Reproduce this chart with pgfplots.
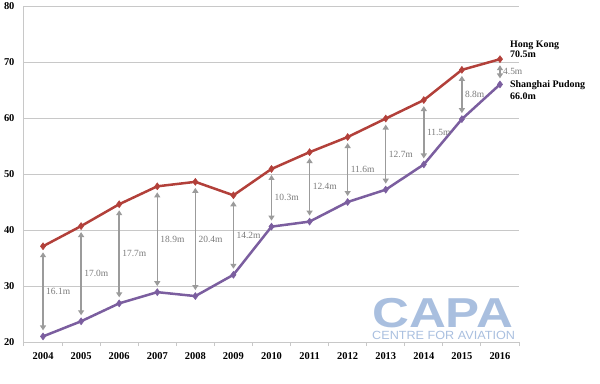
\documentclass[border=0pt]{standalone}
\usepackage{pgfplots}
\pgfplotsset{compat=1.18}
\usepackage{pgfplotstable}
\usepackage{fontspec}
\setmainfont{Liberation Serif}
\newfontfamily\logofont{Liberation Sans}
\usetikzlibrary{arrows.meta}

\definecolor{hkred}{HTML}{B2403A}
\definecolor{shpurple}{HTML}{7B5E9F}
\definecolor{arrgrey}{HTML}{9B9B9B}
\definecolor{gridgrey}{HTML}{C8C8C8}
\definecolor{capablue}{HTML}{A9BFDF}
\definecolor{labgrey}{HTML}{7A7A7A}

\pgfplotstableread{
x hk sh d lab
0 37.1 21.0 16.1 16.1m
1 40.7 23.7 17.0 17.0m
2 44.6 26.9 17.7 17.7m
3 47.8 28.9 18.9 18.9m
4 48.6 28.2 20.4 20.4m
5 46.2 32.0 14.2 14.2m
6 50.9 40.6 10.3 10.3m
7 53.9 41.5 12.4 12.4m
8 56.6 45.0 11.6 11.6m
9 59.9 47.2 12.7 12.7m
10 63.2 51.7 11.5 11.5m
11 68.6 59.8 8.8 8.8m
12 70.5 66.0 4.5 4.5m
}\data

\begin{document}
\begin{tikzpicture}
\useasboundingbox (-24bp,-42bp) rectangle (576bp,342bp);
\begin{axis}[
  at={(0,0)}, anchor=south west,
  scale only axis, width=495bp, height=336bp,
  xmin=-0.5, xmax=12.5, ymin=20, ymax=80,
  clip=false,
  axis lines=left,
  axis line style={-, draw=gridgrey, line width=1bp},
  xtick={0,1,2,3,4,5,6,7,8,9,10,11,12},
  xticklabels={2004,2005,2006,2007,2008,2009,2010,2011,2012,2013,2014,2015,2016},
  minor xtick={-0.5,0.5,1.5,2.5,3.5,4.5,5.5,6.5,7.5,8.5,9.5,10.5,11.5,12.5},
  major tick length=0pt,
  minor tick length=4bp,
  tick align=outside,
  minor tick style={draw=gridgrey, line width=1bp},
  ytick={20,30,40,50,60,70,80},
  ymajorgrids,
  grid style={draw=gridgrey, line width=1bp},
  tick label style={font=\bfseries\fontsize{10.5}{12}\selectfont},
  yticklabel style={xshift=-6bp},
  xticklabel style={yshift=-7bp},
  /pgf/number format/assume math mode=true,
]
% gap arrows
\addplot[draw=arrgrey, line width=1.5bp,
  {Triangle[width=6bp,length=5bp]}-{Triangle[width=6bp,length=5bp]},
  shorten >=6bp, shorten <=6bp,
  quiver={u=0, v=\thisrow{d}}] table[x=x, y=sh] {\data};
% gap labels
\addplot[draw=none, mark=none,
  nodes near coords, point meta=explicit symbolic,
  nodes near coords style={anchor=west, inner sep=1bp, xshift=2bp,
    font=\fontsize{9.5}{10}\selectfont, text=labgrey}]
  table[x=x, y expr=(\thisrow{hk}+\thisrow{sh})/2, meta=lab] {\data};
% series
\addplot[color=hkred, line width=2.5bp, mark=diamond*,
  mark size=3.5bp, mark options={fill=hkred, draw=hkred, line width=0.5bp}]
  table[x=x, y=hk] {\data};
\addplot[color=shpurple, line width=2.5bp, mark=diamond*,
  mark size=3.5bp, mark options={fill=shpurple, draw=shpurple, line width=0.5bp}]
  table[x=x, y=sh] {\data};
% end labels
\node[anchor=south west, inner sep=0pt, xshift=10bp, yshift=1bp, align=left,
  font=\bfseries\fontsize{10}{10.6}\selectfont] at (axis cs:12,70.5)
  {Hong Kong\\70.5m};
\node[anchor=north west, inner sep=0pt, xshift=10bp, yshift=4bp, align=left,
  font=\bfseries\fontsize{10}{11.6}\selectfont] at (axis cs:12,66.0)
  {Shanghai Pudong\\66.0m};
\end{axis}
% logo
\node[anchor=base west, inner sep=0pt, text=capablue, xscale=1.22,
  font=\logofont\bfseries\fontsize{42}{42}\selectfont] at (348bp,15bp) {CAPA};
\node[anchor=base west, inner sep=0pt, text=capablue, xscale=1.066,
  font=\logofont\fontsize{11.9}{12}\selectfont] at (348bp,3bp) {CENTRE FOR AVIATION};
\end{tikzpicture}
\end{document}
